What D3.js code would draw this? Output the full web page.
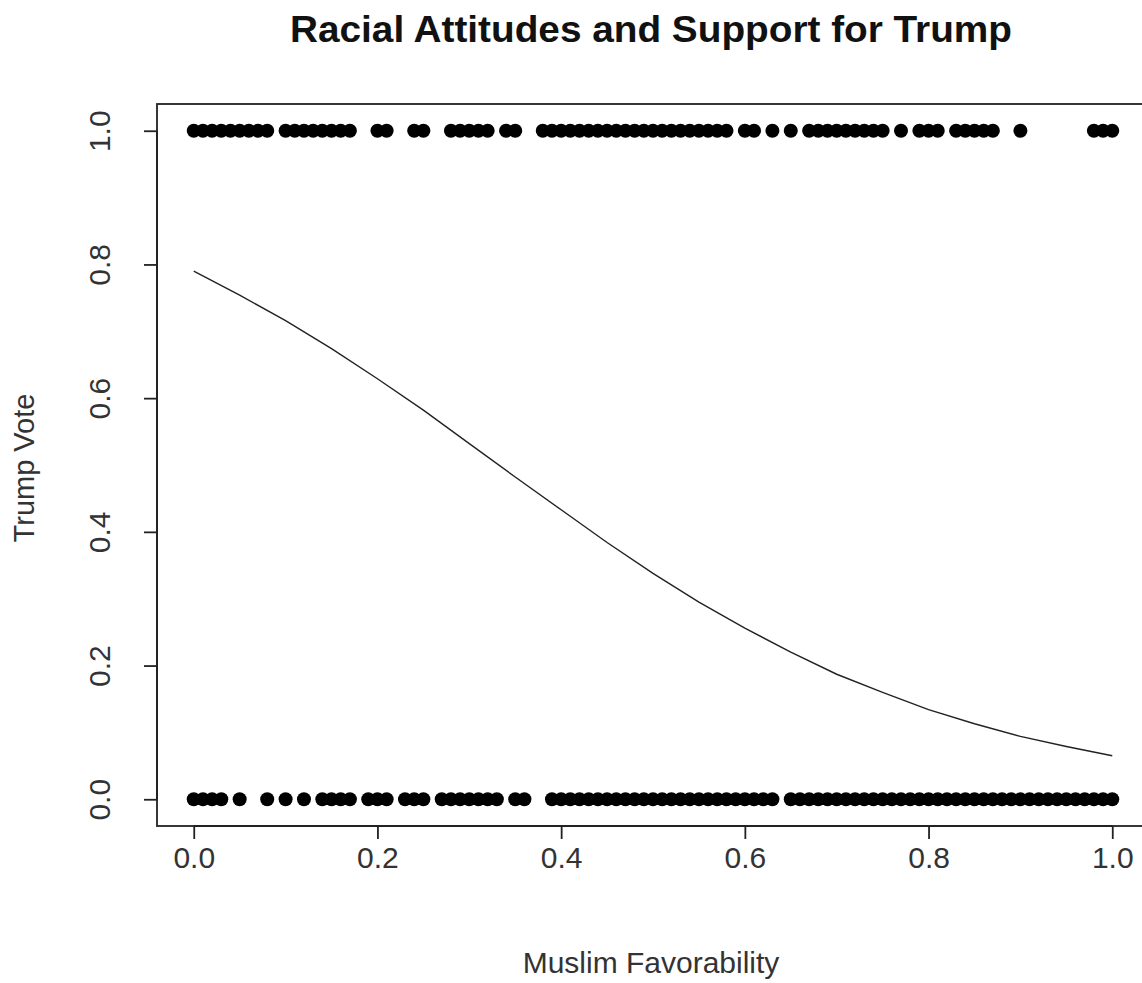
<!DOCTYPE html>
<html>
<head>
<meta charset="utf-8">
<script src="https://cdn.jsdelivr.net/npm/d3@7"></script>
<style>
  body { margin: 0; background: #fff; }
  svg { display: block; }
  text { font-family: "Liberation Sans", Arial, sans-serif; }
</style>
</head>
<body>
<div id="chart"></div>
<script>
// observed favorability values (x) for respondents who voted Trump (1) and not (0)
const favYes = [
  0.00, 0.01, 0.02, 0.03, 0.04, 0.05, 0.06, 0.07, 0.08,
  0.10, 0.11, 0.12, 0.13, 0.14, 0.15, 0.16, 0.17,
  0.20, 0.21, 0.24, 0.25,
  0.28, 0.29, 0.30, 0.31, 0.32, 0.34, 0.35,
  0.38, 0.39, 0.40, 0.41, 0.42, 0.43, 0.44, 0.45, 0.46, 0.47, 0.48, 0.49,
  0.50, 0.51, 0.52, 0.53, 0.54, 0.55, 0.56, 0.57, 0.58,
  0.60, 0.61, 0.63, 0.65,
  0.67, 0.68, 0.69, 0.70, 0.71, 0.72, 0.73, 0.74, 0.75, 0.77,
  0.79, 0.80, 0.81, 0.83, 0.84, 0.85, 0.86, 0.87, 0.90,
  0.98, 0.99, 1.00
];
const favNo = [
  0.00, 0.01, 0.02, 0.03, 0.05, 0.08, 0.10, 0.12,
  0.14, 0.15, 0.16, 0.17, 0.19, 0.20, 0.21, 0.23, 0.24, 0.25, 0.27,
  0.28, 0.29, 0.30, 0.31, 0.32, 0.33, 0.35, 0.36,
  0.39, 0.40, 0.41, 0.42, 0.43, 0.44, 0.45, 0.46, 0.47, 0.48, 0.49,
  0.50, 0.51, 0.52, 0.53, 0.54, 0.55, 0.56, 0.57, 0.58, 0.59, 0.60, 0.61, 0.62, 0.63,
  0.65, 0.66, 0.67, 0.68, 0.69, 0.70, 0.71, 0.72, 0.73, 0.74, 0.75, 0.76, 0.77, 0.78, 0.79,
  0.80, 0.81, 0.82, 0.83, 0.84, 0.85, 0.86, 0.87, 0.88, 0.89, 0.90, 0.91, 0.92, 0.93, 0.94,
  0.95, 0.96, 0.97, 0.98, 0.99, 1.00
];

// fitted probability curve
const curveX = [0.00, 0.05, 0.10, 0.15, 0.20, 0.25, 0.30, 0.35, 0.40, 0.45, 0.50,
                0.55, 0.60, 0.65, 0.70, 0.75, 0.80, 0.85, 0.90, 0.95, 1.00];
const curveY = [0.790, 0.754, 0.716, 0.674, 0.629, 0.582, 0.532, 0.482, 0.433, 0.384, 0.338,
                0.295, 0.256, 0.220, 0.187, 0.160, 0.134, 0.113, 0.094, 0.079, 0.065];

const xTicks = [0, 0.2, 0.4, 0.6, 0.8, 1.0];
const yTicks = [0, 0.2, 0.4, 0.6, 0.8, 1.0];

const W = 1142, H = 983;
// plot box (R style, 4% padding around data range)
const box = { left: 157, right: 1149, top: 104, bottom: 826 };

const x = d3.scaleLinear().domain([-0.04, 1.04]).range([box.left, box.right]);
const y = d3.scaleLinear().domain([-0.04, 1.04]).range([box.bottom, box.top]);

const svg = d3.select("#chart").append("svg")
  .attr("width", W)
  .attr("height", H);

// title
svg.append("text")
  .attr("x", 651).attr("y", 42)
  .attr("text-anchor", "middle")
  .attr("textLength", 722)
  .attr("lengthAdjust", "spacingAndGlyphs")
  .style("font-size", "37px")
  .style("font-weight", "bold")
  .attr("fill", "#111")
  .text("Racial Attitudes and Support for Trump");

// box
svg.append("rect")
  .attr("x", box.left).attr("y", box.top)
  .attr("width", box.right - box.left).attr("height", box.bottom - box.top)
  .attr("fill", "none").attr("stroke", "#222").attr("stroke-width", 1.8);

// x axis
const xAxis = svg.append("g")
  .attr("transform", `translate(0,${box.bottom})`)
  .call(d3.axisBottom(x).tickValues(xTicks).tickFormat(d3.format(".1f")).tickSize(13));
xAxis.select(".domain")
  .attr("d", `M${x(0)},0H${x(1)}`)
  .attr("stroke", "#222").attr("stroke-width", 1.8);
xAxis.selectAll(".tick line").attr("stroke", "#222").attr("stroke-width", 1.8);
xAxis.selectAll(".tick text")
  .attr("y", 21).attr("dy", "0.71em")
  .style("font-size", "30px").attr("fill", "#333");

// y axis
const yAxis = svg.append("g")
  .attr("transform", `translate(${box.left},0)`)
  .call(d3.axisLeft(y).tickValues(yTicks).tickFormat(d3.format(".1f")).tickSize(13));
yAxis.select(".domain")
  .attr("d", `M0,${y(0)}V${y(1)}`)
  .attr("stroke", "#222").attr("stroke-width", 1.8);
yAxis.selectAll(".tick line").attr("stroke", "#222").attr("stroke-width", 1.8);
yAxis.selectAll(".tick text")
  .attr("x", null)
  .attr("text-anchor", "middle")
  .attr("transform", "translate(-58,0) rotate(-90)")
  .attr("dy", "0.35em")
  .style("font-size", "30px").attr("fill", "#333");

// axis titles
svg.append("text")
  .attr("x", 651).attr("y", 973)
  .attr("text-anchor", "middle")
  .style("font-size", "30px").attr("fill", "#333")
  .text("Muslim Favorability");

svg.append("text")
  .attr("transform", `translate(34,468) rotate(-90)`)
  .attr("text-anchor", "middle")
  .style("font-size", "29px").attr("fill", "#333")
  .text("Trump Vote");

// points
const pts = favYes.map(v => ({ fav: v, vote: 1 }))
  .concat(favNo.map(v => ({ fav: v, vote: 0 })));

svg.append("g").selectAll("circle")
  .data(pts)
  .enter()
  .append("circle")
  .attr("cx", d => x(d.fav))
  .attr("cy", d => y(d.vote))
  .attr("r", 7)
  .attr("fill", "#000");

// fitted curve
const line = d3.line()
  .x((d, i) => x(curveX[i]))
  .y(d => y(d));

svg.append("path")
  .datum(curveY)
  .attr("d", line)
  .attr("fill", "none")
  .attr("stroke", "#222")
  .attr("stroke-width", 1.4);
</script>
</body>
</html>
